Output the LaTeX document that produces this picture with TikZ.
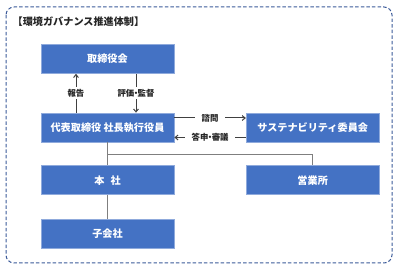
\documentclass[tikz,border=0pt]{standalone}
\usepackage{fontspec}
\setmainfont{Noto Sans CJK JP}
\usetikzlibrary{arrows.meta}
\definecolor{boxblue}{HTML}{4472C4}
\definecolor{boxedge}{HTML}{8FAADC}
\definecolor{frameblue}{HTML}{3B5A99}
\definecolor{linegray}{HTML}{7F7F7F}
\definecolor{arrowgray}{HTML}{404040}
\newcommand{\nakaten}{\kern-0.3em・\kern-0.3em}
\begin{document}
\begin{tikzpicture}[x=0.75pt, y=-0.75pt,
  every node/.style={font=\fontsize{6.3}{7}\selectfont\bfseries},
  org/.style={draw=boxedge, line width=0.5pt, fill=boxblue, text=white, minimum width=99.75pt, minimum height=21.75pt, inner sep=0pt, font=\fontsize{7.6}{8}\selectfont\bfseries},
  lbl/.style={fill=white, inner sep=1.5pt, text=black!85},
  arr/.style={-{Straight Barb[length=2.2pt, width=3.6pt]}, arrowgray, line width=0.75pt},
  tree/.style={linegray, line width=1pt}]
\useasboundingbox (0,0) rectangle (401,270);
\draw[frameblue, line width=0.75pt, dash pattern=on 2.6pt off 1.6pt, rounded corners=6pt] (6,7) rectangle (392,263);
\node[anchor=west, font=\fontsize{7.6}{8}\selectfont\bfseries, text=black!85] (title) at (8,22) {【環境ガバナンス推進体制】};
\node[org] (board) at (107.5,59) {取締役会};
\node[org] (ceo) at (107.5,127.5) {代表取締役 社長執行役員};
\node[org] (sus) at (312.7,127.5) {サステナビリティ委員会};
\node[org] (hq) at (107.5,180.3) {本\hspace{0.6em}社};
\node[org] (office) at (312.7,180.3) {営業所};
\node[org] (sub) at (107.5,233.7) {子会社};
\draw[arr] (ceo.north -| 76,0) -- node[lbl] {報告} (board.south -| 76,0);
\draw[arr] (board.south -| 136,0) -- node[lbl] {評価\nakaten 監督} (ceo.north -| 136,0);
\draw[arr] (ceo.east |- 0,118) -- node[lbl, inner xsep=5pt] {諮問} (sus.west |- 0,118);
\draw[arr] (sus.west |- 0,137.5) -- node[lbl, inner xsep=5pt] {答申\nakaten 審議} (ceo.east |- 0,137.5);
\draw[tree] (ceo.south) -- (hq.north);
\draw[tree] (ceo.south |- 0,154.3) -| (office.north);
\draw[tree] (hq.south) -- (sub.north);
\end{tikzpicture}
\end{document}
